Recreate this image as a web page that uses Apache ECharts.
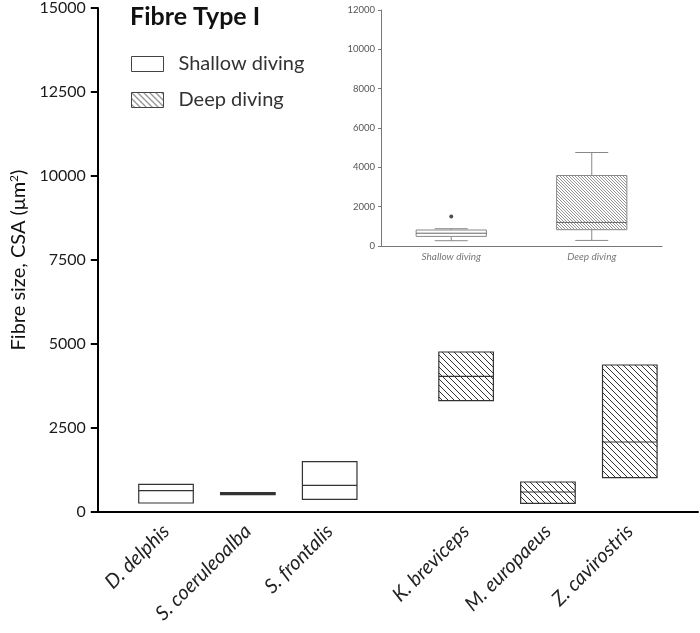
<!DOCTYPE html>
<html>
<head>
<meta charset="utf-8">
<script src="https://cdn.jsdelivr.net/npm/echarts@6/dist/echarts.min.js"></script>
<style>html,body{margin:0;padding:0;background:#fff}#c{width:700px;height:633px}</style>
</head>
<body>
<div id="c"></div>
<script>
// ---- data ----
const shallowSpecies = ['D. delphis', 'S. coeruleoalba', 'S. frontalis'];
const deepSpecies = ['K. breviceps', 'M. europaeus', 'Z. cavirostris'];
const shallowLow = [268, 515, 378];
const shallowMedian = [634, 545, 795];
const shallowHigh = [824, 575, 1497];
const deepLow = [3313, 259, 1021];
const deepMedian = [4039, 595, 2083];
const deepHigh = [4762, 893, 4375];
const yTicks = [0, 2500, 5000, 7500, 10000, 12500, 15000];

const insetCategories = ['Shallow diving', 'Deep diving'];
const insetMin = [269, 284];
const insetQ1 = [488, 828];
const insetMedian = [650, 1199];
const insetQ3 = [813, 3585];
const insetMax = [879, 4754];
const insetOutliers = [['Shallow diving', 1503]];
const insetTicks = [0, 2000, 4000, 6000, 8000, 10000, 12000];

// ---- layout of slots on the main category axis ----
const PAD = 2, STEP = 3, GROUP_GAP = 5;
const slots = [];
const shallowIdx = [], deepIdx = [];
for (let i = 0; i < PAD; i++) slots.push('');
shallowSpecies.forEach((s, i) => {
  if (i > 0) for (let k = 1; k < STEP; k++) slots.push('');
  shallowIdx.push(slots.length); slots.push(s);
});
for (let k = 1; k < GROUP_GAP; k++) slots.push('');
deepSpecies.forEach((s, i) => {
  if (i > 0) for (let k = 1; k < STEP; k++) slots.push('');
  deepIdx.push(slots.length); slots.push(s);
});
for (let i = 0; i < PAD; i++) slots.push('');

function hatch(size, color, lw) {
  const c = document.createElement('canvas');
  c.width = size; c.height = size;
  const g = c.getContext('2d');
  g.strokeStyle = color; g.lineWidth = lw;
  for (const x0 of [-size, 0, size]) {
    g.beginPath(); g.moveTo(x0, 0); g.lineTo(x0 + size, size); g.stroke();
  }
  return c;
}
const mainHatch = { image: hatch(6, '#333', 1), repeat: 'repeat' };
const insetHatch = { image: hatch(3, '#777', 0.8), repeat: 'repeat' };

function mainRender(fill) {
  return function (params, api) {
    const x = api.value(0);
    const pL = api.coord([x, api.value(1)]);
    const pM = api.coord([x, api.value(2)]);
    const pH = api.coord([x, api.value(3)]);
    const w = api.size([1, 0])[0] * 2;
    return {
      type: 'group', children: [
        { type: 'rect', shape: { x: pL[0] - w / 2, y: pH[1], width: w, height: pL[1] - pH[1] },
          style: { fill: fill, stroke: '#333', lineWidth: 1.2 } },
        { type: 'line', shape: { x1: pL[0] - w / 2, y1: pM[1], x2: pL[0] + w / 2, y2: pM[1] },
          style: { stroke: '#333', lineWidth: 1.2 } }
      ]
    };
  };
}

function insetRender(params, api) {
  const x = api.value(0);
  const pMin = api.coord([x, api.value(1)]);
  const pQ1 = api.coord([x, api.value(2)]);
  const pMed = api.coord([x, api.value(3)]);
  const pQ3 = api.coord([x, api.value(4)]);
  const pMax = api.coord([x, api.value(5)]);
  const band = api.size([1, 0])[0];
  const w = band * 0.5, cw = band * 0.235;
  const cx = pMin[0];
  const fill = params.dataIndex === 1 ? insetHatch : '#fff';
  const st = { stroke: '#888', lineWidth: 1 };
  return {
    type: 'group', children: [
      { type: 'line', shape: { x1: cx, y1: pMin[1], x2: cx, y2: pQ1[1] }, style: st },
      { type: 'line', shape: { x1: cx, y1: pQ3[1], x2: cx, y2: pMax[1] }, style: st },
      { type: 'line', shape: { x1: cx - cw / 2, y1: pMin[1], x2: cx + cw / 2, y2: pMin[1] }, style: st },
      { type: 'line', shape: { x1: cx - cw / 2, y1: pMax[1], x2: cx + cw / 2, y2: pMax[1] }, style: st },
      { type: 'rect', shape: { x: cx - w / 2, y: pQ3[1], width: w, height: pQ1[1] - pQ3[1] },
        style: { fill: fill, stroke: '#888', lineWidth: 1 } },
      { type: 'line', shape: { x1: cx - w / 2, y1: pMed[1], x2: cx + w / 2, y2: pMed[1] }, style: { stroke: '#666', lineWidth: 1 } }
    ]
  };
}

const FONT = 'Lato';
const plain = v => String(v);
const chart = echarts.init(document.getElementById('c'), null, { renderer: 'canvas' });
chart.setOption({
  animation: false,
  textStyle: { fontFamily: FONT },
  title: { text: 'Fibre Type I', left: 125, top: -1,
    textStyle: { fontFamily: FONT, fontSize: 25, fontWeight: 'bold', color: '#111' } },
  legend: {
    orient: 'vertical', left: 126, top: 49, icon: 'rect', itemWidth: 32, itemHeight: 15, itemGap: 16,
    textStyle: { fontFamily: FONT, fontSize: 20, color: '#333', padding: [0, 0, 0, 10] },
    data: [
      { name: 'Shallow diving', itemStyle: { color: '#fff', borderColor: '#444', borderWidth: 1 } },
      { name: 'Deep diving', itemStyle: { color: mainHatch, borderColor: '#444', borderWidth: 1 } }
    ]
  },
  grid: [
    { left: 97, right: 2, top: 8, bottom: 121 },
    { left: 381, top: 10, width: 281, height: 236 }
  ],
  xAxis: [
    { type: 'category', gridIndex: 0, data: slots, boundaryGap: true,
      axisLine: { lineStyle: { color: '#000', width: 2 } },
      axisTick: { alignWithLabel: true, length: 7, lineStyle: { color: '#000', width: 2 },
        interval: (i, v) => v !== '' },
      axisLabel: { interval: (i, v) => v !== '', rotate: 45, margin: 16, fontSize: 20, fontStyle: 'italic',
        color: '#222', fontFamily: FONT },
      splitLine: { show: false } },
    { type: 'category', gridIndex: 1, data: insetCategories, boundaryGap: true,
      axisLine: { lineStyle: { color: '#777', width: 1 } },
      axisTick: { alignWithLabel: true, length: 3, lineStyle: { color: '#777' } },
      axisLabel: { fontSize: 10, fontStyle: 'italic', color: '#777', margin: 6, fontFamily: FONT } }
  ],
  yAxis: [
    { type: 'value', gridIndex: 0, min: yTicks[0], max: yTicks[yTicks.length - 1], interval: yTicks[1] - yTicks[0],
      axisLine: { show: true, lineStyle: { color: '#000', width: 2 } },
      axisTick: { show: true, length: 7, lineStyle: { color: '#000', width: 2 } },
      axisLabel: { fontSize: 16, color: '#1a1a1a', margin: 12, fontFamily: FONT, formatter: plain },
      splitLine: { show: false },
      name: '{a|Fibre size, CSA (\u03bcm}{s|2}{a|)}', nameLocation: 'middle', nameGap: 66,
      nameTextStyle: { rich: {
        a: { fontSize: 20, color: '#111', fontFamily: FONT },
        s: { fontSize: 12, color: '#111', fontFamily: FONT, verticalAlign: 'top', padding: [0, 0, 9, 0] } } } },
    { type: 'value', gridIndex: 1, min: insetTicks[0], max: insetTicks[insetTicks.length - 1], interval: insetTicks[1] - insetTicks[0],
      axisLine: { show: true, lineStyle: { color: '#777', width: 1 } },
      axisTick: { show: true, length: 3, lineStyle: { color: '#777' } },
      axisLabel: { fontSize: 9.5, color: '#555', margin: 6, fontFamily: FONT, formatter: plain },
      splitLine: { show: false } }
  ],
  series: [
    { name: 'Shallow diving', type: 'custom', xAxisIndex: 0, yAxisIndex: 0, renderItem: mainRender('#fff'),
      itemStyle: { color: '#fff' },
      data: shallowIdx.map((x, i) => [x, shallowLow[i], shallowMedian[i], shallowHigh[i]]) },
    { name: 'Deep diving', type: 'custom', xAxisIndex: 0, yAxisIndex: 0, renderItem: mainRender(mainHatch),
      itemStyle: { color: '#888' },
      data: deepIdx.map((x, i) => [x, deepLow[i], deepMedian[i], deepHigh[i]]) },
    { name: 'inset', type: 'custom', xAxisIndex: 1, yAxisIndex: 1, renderItem: insetRender,
      data: insetCategories.map((c, i) => [i, insetMin[i], insetQ1[i], insetMedian[i], insetQ3[i], insetMax[i]]) },
    { name: 'outliers', type: 'scatter', xAxisIndex: 1, yAxisIndex: 1, symbol: 'circle', symbolSize: 4,
      itemStyle: { color: '#222' }, data: insetOutliers }
  ]
});
</script>
</body>
</html>
